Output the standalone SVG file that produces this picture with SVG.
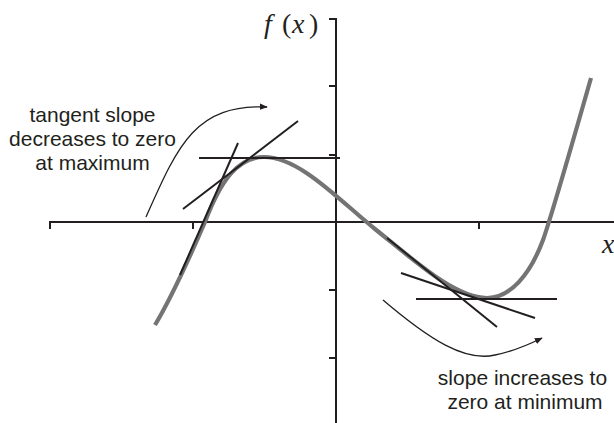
<svg xmlns="http://www.w3.org/2000/svg" width="614" height="423" viewBox="0 0 614 423">
  <style>
    .axis { stroke: #231f20; stroke-width: 2; fill: none; }
    .tan { stroke: #231f20; stroke-width: 2; fill: none; stroke-linecap: butt; }
    .curve { stroke: #747474; stroke-width: 4.2; fill: none; }
    .arr { stroke: #231f20; stroke-width: 1.3; fill: none; }
    .lbl { font-family: "Liberation Sans", Arial, sans-serif; font-size: 21px; fill: #231f20; text-anchor: middle; }
    .math { font-family: "Liberation Serif", "Times New Roman", serif; font-size: 28px; fill: #231f20; }
  </style>
  <defs>
    <marker id="ah" viewBox="0 0 10 10" refX="9" refY="5" markerWidth="8" markerHeight="8" markerUnits="userSpaceOnUse" orient="auto">
      <path d="M0,1 L10,5 L0,9 Z" fill="#231f20"/>
    </marker>
  </defs>

  <g id="axes">
    <line class="axis" x1="50" y1="222" x2="614" y2="222"/>
    <line class="axis" x1="50" y1="221" x2="50" y2="229"/>
    <line class="axis" x1="193" y1="222" x2="193" y2="229"/>
    <line class="axis" x1="479" y1="222" x2="479" y2="229"/>
    <line class="axis" x1="336" y1="18" x2="336" y2="423"/>
    <line class="axis" x1="329" y1="19" x2="337" y2="19"/>
    <line class="axis" x1="329" y1="86" x2="336" y2="86"/>
    <line class="axis" x1="329" y1="155" x2="336" y2="155"/>
    <line class="axis" x1="329" y1="290" x2="336" y2="290"/>
    <line class="axis" x1="329" y1="358" x2="336" y2="358"/>
  </g>

  <g id="axis-labels">
    <text class="math" y="33"><tspan x="264" font-style="italic">f</tspan><tspan x="282">(</tspan><tspan x="292" font-style="italic">x</tspan><tspan x="309">)</tspan></text>
    <text class="math" x="602" y="253" font-style="italic">x</text>
  </g>

  <g id="function-curve">
    <path class="curve" d="M155,325 C170,300 192,252 205,222 C221,180 238,157 264,157 C300,157 340,201 375,229 C415,261 455,298 487,298 C510,298 530,275 543,240 C551,218 581,113 591,78"/>
  </g>

  <g id="connectors">
    <line class="tan" x1="180" y1="275" x2="238" y2="143"/>
    <line class="tan" x1="183" y1="209" x2="298" y2="121"/>
    <line class="tan" x1="199" y1="158" x2="340" y2="158"/>
    <line class="tan" x1="387" y1="238" x2="497" y2="327"/>
    <line class="tan" x1="401" y1="273" x2="535" y2="318"/>
    <line class="tan" x1="416" y1="299" x2="557" y2="299"/>
    <path class="arr" d="M146,217 C178,145 195,104 267,107" marker-end="url(#ah)"/>
    <path class="arr" d="M383,300 C430,340 465,362 495,355 C515,351 528,345 542,338" marker-end="url(#ah)"/>
  </g>

  <g id="label-max">
    <text class="lbl" x="92.5" y="121.5">tangent slope</text>
    <text class="lbl" x="92.5" y="146">decreases to zero</text>
    <text class="lbl" x="92.5" y="170">at maximum</text>
  </g>

  <g id="label-min">
    <text class="lbl" x="522.5" y="385">slope increases to</text>
    <text class="lbl" x="525" y="408.5">zero at minimum</text>
  </g>
</svg>
